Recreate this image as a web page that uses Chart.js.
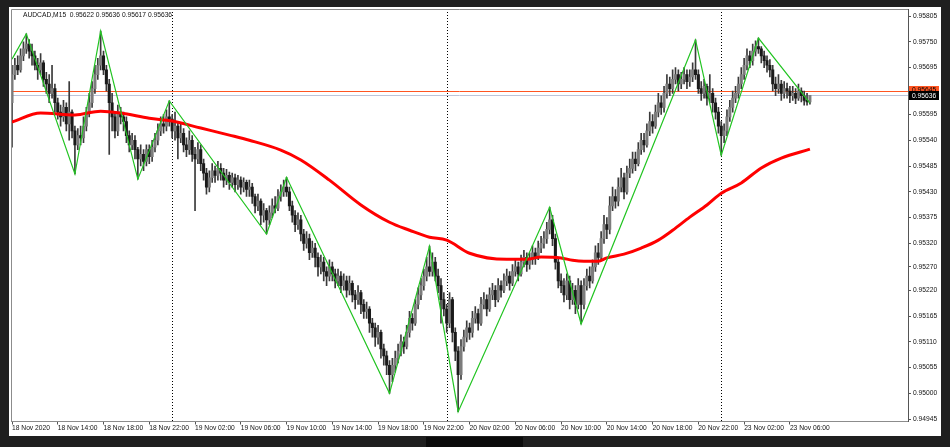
<!DOCTYPE html>
<html>
<head>
<meta charset="utf-8">
<script src="https://cdn.jsdelivr.net/npm/chart.js@4.4.1/dist/chart.umd.min.js"></script>
<style>
  html, body { margin: 0; padding: 0; background: #1f1f1f; }
  body { width: 950px; height: 447px; position: relative; overflow: hidden; }
  #panel { position: absolute; left: 9px; top: 7px; width: 932px; height: 429px; background: #fff; }
  #chart { position: absolute; left: 9px; top: 7px; }
  #taskbar { position: absolute; left: 426px; top: 437px; width: 97px; height: 10px; background: #0b0b0b; }
</style>
</head>
<body>
<div id="panel"></div>
<div id="taskbar"></div>
<canvas id="chart" width="932" height="429"></canvas>
<script>
// AUDCAD M15, 280 bars from 18 Nov 10:00 to 23 Nov 07:45
// prices are in points (0.00001) above 0.95000; open of a bar = close of the bar before
const BASE = 0.95;
const firstOpenPts = 620;
const closePts = [
  680,700,690,720,735,745,730,720,700,690,705,670,660,640,650,620,600,590,610,575,
  600,560,530,550,545,570,600,620,650,680,700,720,690,660,620,590,560,600,590,580,
  550,530,540,520,500,510,495,520,505,525,540,560,575,570,590,585,560,570,545,555,
  530,520,540,510,500,520,490,470,440,460,475,465,480,470,455,465,450,460,445,455,
  440,450,435,440,420,400,410,380,390,370,385,400,395,420,430,440,430,400,380,360,
  370,340,320,330,300,310,290,270,280,260,250,270,255,240,250,230,240,220,235,210,
  200,215,190,175,180,150,140,120,130,95,80,60,40,60,75,90,110,100,130,160,
  150,190,210,230,250,270,260,280,250,230,200,180,150,200,130,90,40,100,120,140,
  130,160,170,150,190,200,180,210,220,200,230,220,240,250,235,260,270,255,280,290,
  275,285,300,290,310,320,330,350,370,330,280,240,230,210,240,200,220,190,230,190,
  230,250,240,270,300,290,330,360,350,400,420,410,440,460,430,470,480,500,490,520,
  540,530,560,580,570,600,620,610,640,660,650,670,680,660,670,680,665,675,690,680,
  650,640,655,630,640,620,600,570,550,560,590,610,630,640,660,680,700,720,710,730,
  740,735,720,710,700,690,660,650,660,640,650,645,635,640,630,645,635,625,622,636
];
const highPts = [
  700,715,720,735,750,767,755,745,730,715,725,710,685,680,700,660,630,615,625,620,
  665,605,570,565,570,590,610,640,665,700,715,773,730,700,670,640,600,615,610,600,
  590,560,555,550,525,530,520,530,530,540,555,575,590,595,605,624,595,600,580,575,
  565,545,560,550,525,535,530,500,480,475,490,485,495,490,480,478,472,470,468,465,
  462,460,455,455,448,425,425,415,405,395,400,415,420,435,445,455,461,440,410,390,
  385,380,350,345,340,325,320,300,295,290,270,285,280,265,265,260,255,250,250,240,
  220,230,220,200,195,185,160,150,145,135,105,90,70,75,90,105,125,120,145,175,
  170,200,225,245,265,290,314,300,290,265,245,215,190,215,205,140,100,115,135,155,
  150,175,185,180,205,215,210,225,235,230,245,240,255,265,260,275,285,280,295,305,
  300,300,315,310,325,335,345,365,397,380,340,290,255,245,255,250,235,230,245,240,
  245,265,270,285,315,320,345,380,375,420,440,435,460,480,470,485,500,515,515,535,
  555,555,575,600,595,615,640,635,655,680,675,690,695,690,685,695,690,690,705,754,
  690,665,670,660,680,650,630,610,580,575,605,625,645,655,675,695,715,735,730,745,
  752,758,740,730,720,712,700,675,680,668,665,662,655,655,650,660,652,645,640,636
];
const lowPts = [
  525,670,680,685,710,725,715,700,690,670,680,655,640,620,630,600,585,570,580,560,
  540,545,468,520,530,535,560,590,610,640,670,690,680,645,510,560,545,550,575,560,
  535,515,520,500,457,485,475,485,490,495,515,530,550,555,560,570,545,540,500,535,
  515,505,510,495,390,490,475,455,425,430,450,450,455,455,440,445,435,440,430,435,
  425,430,420,420,405,385,390,360,365,340,360,375,385,390,410,420,420,390,365,345,
  350,325,305,310,285,290,270,250,255,240,230,240,240,225,230,215,220,205,210,195,
  180,190,170,160,160,130,120,100,105,75,60,40,0,25,45,65,80,85,95,120,
  135,145,180,200,220,240,250,250,240,215,150,165,130,140,110,70,-39,30,90,110,
  115,120,150,135,145,180,165,175,200,185,195,205,215,230,220,230,250,240,250,270,
  260,265,275,275,285,300,310,320,340,315,265,225,215,195,200,180,190,170,180,148,
  180,220,225,235,260,275,285,320,330,340,390,395,400,430,415,425,460,470,475,485,
  510,515,525,550,555,565,590,595,600,630,635,640,660,645,650,660,650,655,665,670,
  640,625,630,615,620,600,585,555,508,535,550,580,600,620,630,650,670,690,695,700,
  720,725,705,695,685,675,645,635,640,625,630,630,620,625,618,625,622,615,615,617
];

// zigzag pivots (bar index, points)
const zzIdx = [0,5,22,31,44,55,89,96,132,146,156,188,199,239,248,261,279];
const zzPts = [713,767,468,773,457,624,340,461,0,314,-39,397,148,754,508,758,619];

// moving average (bar index, points)
const maIdx = [0,10,22,31,38,48,56,66,76,83,94,101,111,122,132,139,146,152,160,173,180,185,192,196,200,205,208,214,220,226,231,237,243,248,255,262,269,279];
const maPts = [579,598,594,602,598,587,581,566,551,540,519,498,455,402,365,348,333,327,299,286,286,291,289,284,282,282,289,297,310,327,348,376,402,427,449,481,502,521];

const timeTicks = [0,16,32,48,64,80,96,112,128,144,160,176,192,208,224,240,256,272];
const timeLabels = ['18 Nov 2020','18 Nov 14:00','18 Nov 18:00','18 Nov 22:00','19 Nov 02:00','19 Nov 06:00',
  '19 Nov 10:00','19 Nov 14:00','19 Nov 18:00','19 Nov 22:00','20 Nov 02:00','20 Nov 06:00','20 Nov 10:00',
  '20 Nov 14:00','20 Nov 18:00','20 Nov 22:00','23 Nov 02:00','23 Nov 06:00'];
const priceTicks = [0.95805,0.95750,0.95695,0.95595,0.95540,0.95485,0.95430,0.95375,0.95320,0.95270,
  0.95220,0.95165,0.95110,0.95055,0.95000,0.94945];
const separatorIdx = [56,152,248];
const levelPrice = 0.95645;
const bidPrice = 0.95636;
const headerText = 'AUDCAD,M15  0.95622 0.95636 0.95617 0.95636';

const pr = p => +(BASE + p / 100000).toFixed(5);
const openPts = closePts.map((c, i) => i ? closePts[i - 1] : firstOpenPts);
const FONT = '"Liberation Sans", Arial, sans-serif';
const ORANGE = '#ff5522';

const overlay = {
  id: 'overlay',
  beforeDatasetsDraw(chart) {
    const {ctx, chartArea: a, scales: {x, y}} = chart;
    ctx.save();
    ctx.lineWidth = 1;
    ctx.strokeStyle = '#000';
    ctx.setLineDash([1, 2]);
    separatorIdx.forEach(i => {
      const px = Math.round(x.getPixelForValue(i)) + 0.5;
      ctx.beginPath(); ctx.moveTo(px, a.top); ctx.lineTo(px, a.bottom); ctx.stroke();
    });
    ctx.setLineDash([]);
    [[bidPrice, '#bcc5da'], [levelPrice, ORANGE]].forEach(([v, c]) => {
      const py = Math.round(y.getPixelForValue(v)) + 0.5;
      ctx.strokeStyle = c;
      ctx.beginPath(); ctx.moveTo(a.left, py); ctx.lineTo(a.right, py); ctx.stroke();
    });
    ctx.restore();
  },
  afterDraw(chart) {
    const {ctx, chartArea: a, scales: {y}} = chart;
    ctx.save();
    ctx.strokeStyle = '#8c8c8c';
    ctx.lineWidth = 1;
    ctx.beginPath();
    ctx.moveTo(a.left + 0.5, a.bottom); ctx.lineTo(a.left + 0.5, a.top + 0.5); ctx.lineTo(a.right, a.top + 0.5);
    ctx.stroke();
    ctx.font = '6.7px ' + FONT;
    ctx.fillStyle = '#111';
    ctx.textBaseline = 'middle';
    ctx.fillText(headerText, a.left + 12, a.top + 6);
    // price labels on the right axis
    const bx = y.left + 1, bw = 30, bh = 8;
    const ly = y.getPixelForValue(levelPrice);
    ctx.fillStyle = ORANGE;
    ctx.fillRect(bx, Math.round(ly - bh / 2) - 1, bw, bh);
    ctx.fillStyle = '#000';
    ctx.fillText(levelPrice.toFixed(5), bx + 3, ly - 1);
    const by = y.getPixelForValue(bidPrice);
    ctx.fillStyle = '#000';
    ctx.fillRect(bx, Math.round(by - bh / 2), bw, bh + 1);
    ctx.fillStyle = '#fff';
    ctx.fillText(bidPrice.toFixed(5), bx + 3, by + 0.5);
    ctx.restore();
  }
};

new Chart(document.getElementById('chart'), {
  type: 'bar',
  data: {
    datasets: [
      {
        label: 'wick',
        data: closePts.map((c, i) => ({x: i, y: [pr(lowPts[i]), pr(highPts[i])]})),
        backgroundColor: '#3a3a3a',
        barThickness: 1,
        grouped: false,
        order: 4
      },
      {
        label: 'body',
        data: closePts.map((c, i) => ({x: i, y: [pr(openPts[i]), pr(c)]})),
        backgroundColor: ctx => closePts[ctx.dataIndex] >= openPts[ctx.dataIndex] ? '#7c7c7c' : '#1a1a1a',
        barThickness: 2.4,
        minBarLength: 1,
        borderSkipped: false,
        grouped: false,
        order: 3
      },
      {
        type: 'line',
        label: 'MA',
        data: maIdx.map((x, k) => ({x: x, y: pr(maPts[k])})),
        borderColor: '#ff0000',
        borderWidth: 3,
        pointRadius: 0,
        cubicInterpolationMode: 'monotone',
        order: 2
      },
      {
        type: 'line',
        label: 'ZigZag',
        data: zzIdx.map((x, k) => ({x: x, y: pr(zzPts[k])})),
        borderColor: '#22c422',
        borderWidth: 1.2,
        pointRadius: 0,
        tension: 0,
        order: 1
      }
    ]
  },
  options: {
    responsive: false,
    animation: false,
    devicePixelRatio: 1,
    layout: {padding: {left: 2, top: 2, right: 0, bottom: 0}},
    plugins: {legend: {display: false}, tooltip: {enabled: false}},
    scales: {
      x: {
        type: 'linear',
        min: -0.35,
        max: 313.3,
        offset: false,
        afterBuildTicks: s => { s.ticks = timeTicks.map(v => ({value: v})); },
        afterFit: s => { s.height = 14.5; s.paddingLeft = 0; s.paddingRight = 0; },
        grid: {drawOnChartArea: false, tickLength: 3, color: '#555', offset: false},
        border: {display: true, color: '#8c8c8c'},
        ticks: {
          autoSkip: false, maxRotation: 0, align: 'start', padding: 0,
          color: '#111', font: {family: FONT, size: 6.7},
          callback: (v, i) => timeLabels[i]
        }
      },
      y: {
        type: 'linear',
        position: 'right',
        min: 0.9494,
        max: 0.9582,
        afterBuildTicks: s => { s.ticks = priceTicks.map(v => ({value: v})); },
        afterFit: s => { s.width = 33; s.paddingTop = 0; s.paddingBottom = 0; },
        grid: {drawOnChartArea: false, tickLength: 3, color: '#555'},
        border: {display: true, color: '#555'},
        ticks: {
          padding: 2, color: '#111', font: {family: FONT, size: 6.7},
          callback: v => v.toFixed(5)
        }
      }
    }
  },
  plugins: [overlay]
});
</script>
</body>
</html>
